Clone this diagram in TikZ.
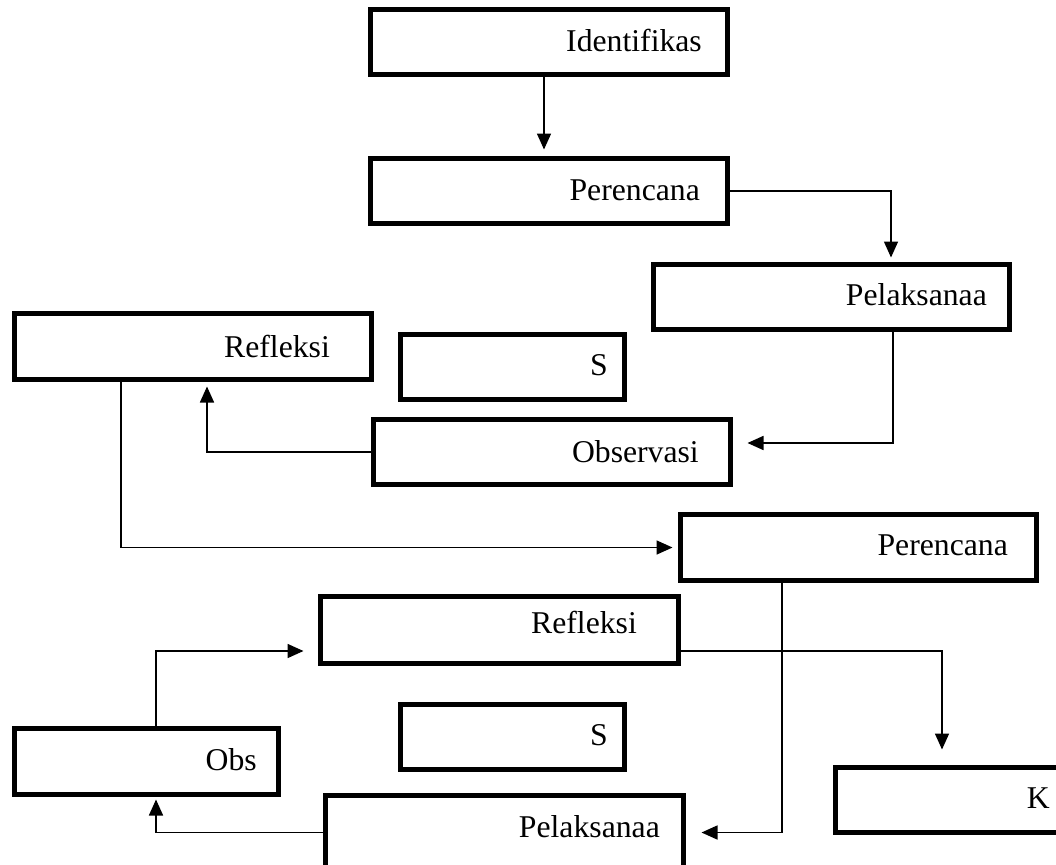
\documentclass[tikz,border=0pt]{standalone}
\usepackage{fontspec}
\setmainfont{Liberation Serif}
\usetikzlibrary{arrows.meta}
\tikzset{
  box/.style={draw, line width=5pt, inner sep=0pt, fill=white},
  lbl/.style={anchor=base east, inner sep=0pt, font=\fontsize{31.7}{38}\selectfont},
  arr/.style={line width=1.6pt, -{Triangle[length=16pt,width=14pt]}},
}
\begin{document}
\begin{tikzpicture}[x=1pt, y=-1pt]
\useasboundingbox (0,0) rectangle (1056,864);
\clip (0,0) rectangle (1056,864);
% boxes
\node[box, minimum width=357pt, minimum height=65pt] (id)   at (549,42) {};
\node[box, minimum width=357pt, minimum height=65pt] (per1) at (549,191) {};
\node[box, minimum width=356pt, minimum height=65pt] (pel1) at (831.5,297) {};
\node[box, minimum width=357pt, minimum height=66pt] (ref1) at (193,346.5) {};
\node[box, minimum width=224pt, minimum height=65pt] (s1)   at (512.5,367) {};
\node[box, minimum width=357pt, minimum height=65pt] (obs1) at (552,452) {};
\node[box, minimum width=356pt, minimum height=66pt] (per2) at (858.5,547.5) {};
\node[box, minimum width=358pt, minimum height=67pt] (ref2) at (499.5,630) {};
\node[box, minimum width=224pt, minimum height=65pt] (s2)   at (512.5,737) {};
\node[box, minimum width=264pt, minimum height=66pt] (obs2) at (146.5,761.5) {};
\node[box, minimum width=358pt, minimum height=74pt] (pel2) at (504.5,832.5) {};
\node[box, minimum width=262pt, minimum height=65pt] (k)    at (966.5,800) {};
% texts
\node[lbl] (id-t)   at (702,52)  {Identifikas};
\node[lbl] (per1-t) at (700,200) {Perencana};
\node[lbl] (pel1-t) at (987,305) {Pelaksanaa};
\node[lbl] (ref1-t) at (330,357) {Refleksi};
\node[lbl] (s1-t)   at (608,375) {S};
\node[lbl] (obs1-t) at (699,462) {Observasi};
\node[lbl] (per2-t) at (1008,555) {Perencana};
\node[lbl] (ref2-t) at (637,633) {Refleksi};
\node[lbl] (s2-t)   at (608,745) {S};
\node[lbl] (obs2-t) at (257,770) {Obs};
\node[lbl] (pel2-t) at (660,837) {Pelaksanaa};
\node[lbl] (k-t)    at (1050,808) {K};
% connectors
\draw[arr, shorten >=6.5pt] ([xshift=-5pt]id.south) -- ([xshift=-5pt]per1.north);
\draw[arr, shorten >=4.5pt] (per1.east) -| ([xshift=59.5pt]pel1.north);
\draw[arr, shorten >=14.5pt] ([xshift=61.5pt]pel1.south) |- ([yshift=9pt]obs1.east);
\draw[arr, shorten >=4.5pt] (obs1.west) -| ([xshift=14pt]ref1.south);
\draw[arr, shorten >=5.5pt] ([xshift=-72pt]ref1.south) |- (per2.west);
\draw[arr, shorten >=15.5pt] ([xshift=-76.5pt]per2.south) |- (pel2.east);
\draw[arr, shorten >=2.5pt] (pel2.west) -| ([xshift=9.5pt]obs2.south);
\draw[arr, shorten >=14.5pt] ([xshift=9.5pt]obs2.north) |- ([yshift=-21pt]ref2.west);
\draw[arr, shorten >=15.5pt] ([yshift=-21pt]ref2.east) -| ([xshift=-24.5pt]k.north);
\end{tikzpicture}
\end{document}
